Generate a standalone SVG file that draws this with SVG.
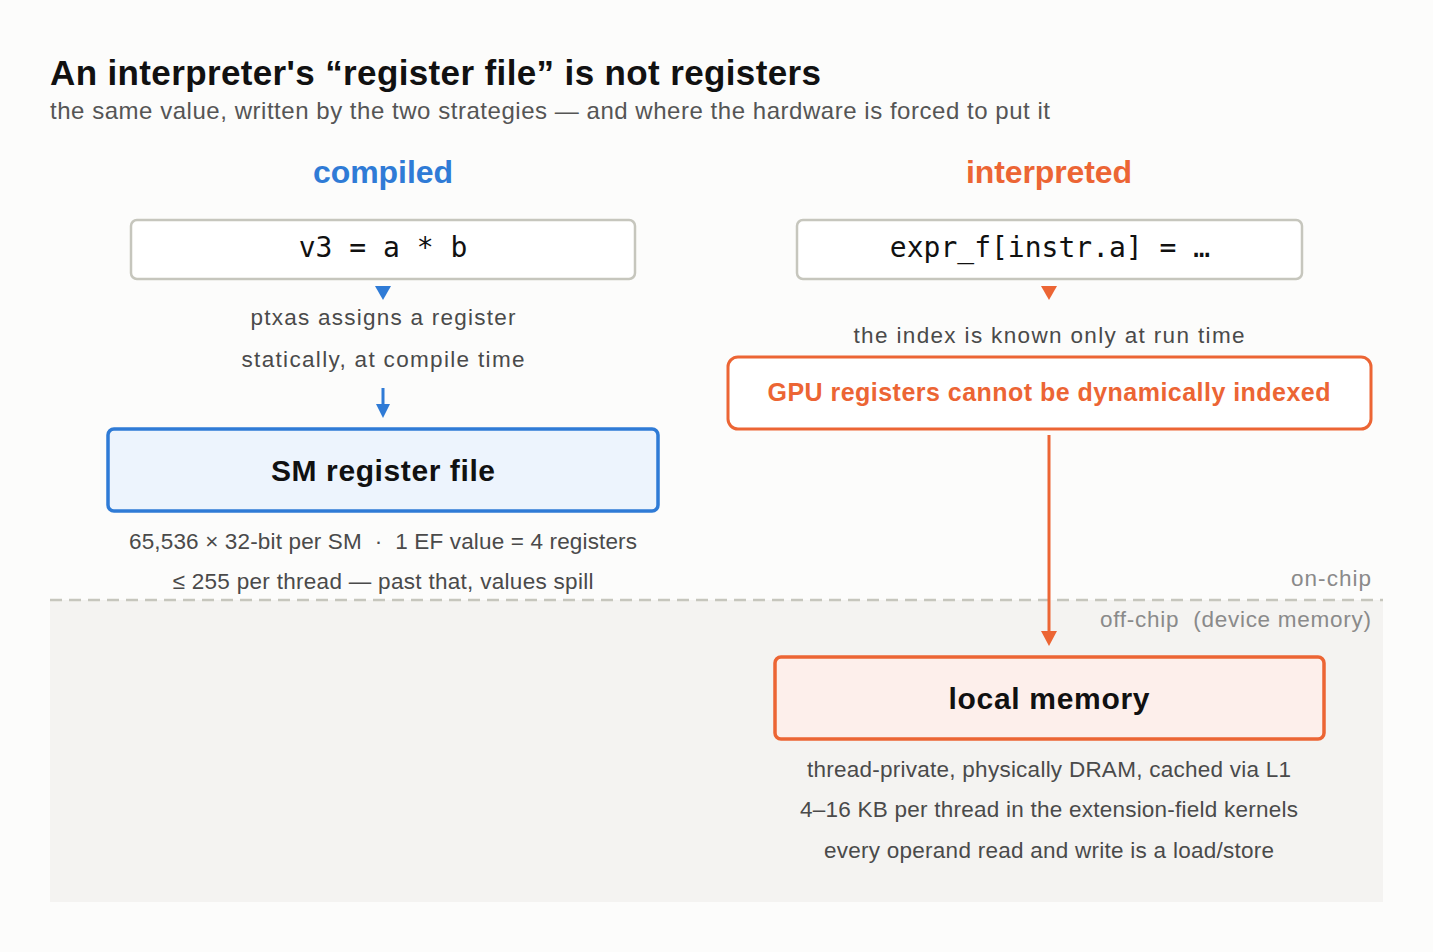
<svg xmlns="http://www.w3.org/2000/svg" width="1433" height="952" viewBox="0 0 1433 952">
<style>
.s{font-family:"Liberation Sans",Arial,sans-serif}
.g{fill:#4a4a4a;font-size:22.5px}
.m{font-family:"DejaVu Sans Mono",monospace;font-size:28px;fill:#111}
.code{fill:#fff;stroke:#c6c6bd;stroke-width:2.5}
.zone{fill:#8a8a8a;font-size:22.5px}
</style>
<rect width="1433" height="952" fill="#fcfcfb"/>
<rect x="50" y="600" width="1333" height="302" fill="#f4f3f1"/>
<line x1="50" y1="600" x2="1383" y2="600" stroke="#c6c6bd" stroke-width="2.5" stroke-dasharray="12,7"/>
<text class="s zone" x="1371" y="586" text-anchor="end" textLength="80">on-chip</text>
<text class="s zone" x="1371" y="627" text-anchor="end" xml:space="preserve" textLength="271">off-chip  (device memory)</text>
<text class="s" x="50" y="85" font-size="35" font-weight="bold" fill="#111" textLength="771">An interpreter's “register file” is not registers</text>
<text class="s" x="50" y="119" font-size="24" fill="#555" textLength="1000">the same value, written by the two strategies — and where the hardware is forced to put it</text>
<text class="s" x="383" y="183" font-size="32" font-weight="bold" fill="#2f7bd6" text-anchor="middle" textLength="140">compiled</text>
<text class="s" x="1049" y="183" font-size="32" font-weight="bold" fill="#ec6534" text-anchor="middle" textLength="166">interpreted</text>
<g id="code-compiled"><rect class="code" x="131" y="220" width="504" height="59" rx="6"/><text class="m" x="383" y="257" text-anchor="middle">v3 = a * b</text></g>
<g id="code-interp"><rect class="code" x="797" y="220" width="505" height="59" rx="6"/><text class="m" x="1050" y="257" text-anchor="middle">expr_f[instr.a] = …</text></g>
<g id="connectors">
<path d="M375,286L391,286L383,300Z" fill="#2f7bd6"/>
<path d="M1041,286L1057,286L1049,300Z" fill="#ec6534"/>
<line x1="383" y1="388" x2="383" y2="408" stroke="#2f7bd6" stroke-width="3"/>
<path d="M376,404L390,404L383,418Z" fill="#2f7bd6"/>
<line x1="1049" y1="435" x2="1049" y2="635" stroke="#ec6534" stroke-width="3"/>
<path d="M1041,631L1057,631L1049,646Z" fill="#ec6534"/>
</g>
<text class="s g" x="383" y="325" text-anchor="middle" textLength="265">ptxas assigns a register</text>
<text class="s g" x="383" y="367" text-anchor="middle" textLength="283">statically, at compile time</text>
<text class="s g" x="1049" y="343" text-anchor="middle" textLength="391">the index is known only at run time</text>
<g id="gpu-reg"><rect x="728" y="357" width="643" height="72" rx="10" fill="#fff" stroke="#ec6534" stroke-width="3"/><text class="s" x="1049" y="401" font-size="25" font-weight="bold" fill="#ec6534" text-anchor="middle" textLength="563">GPU registers cannot be dynamically indexed</text></g>
<g id="sm-reg"><rect x="108" y="429" width="550" height="82" rx="6" fill="#edf4fd" stroke="#2f7bd6" stroke-width="3.5"/><text class="s" x="383" y="481" font-size="30" font-weight="bold" fill="#111" text-anchor="middle" textLength="224">SM register file</text></g>
<text class="s g" x="383" y="549" text-anchor="middle" xml:space="preserve" textLength="508">65,536 × 32-bit per SM  ·  1 EF value = 4 registers</text>
<text class="s g" x="383" y="589" text-anchor="middle" textLength="421">≤ 255 per thread — past that, values spill</text>
<g id="local-mem"><rect x="775" y="657" width="549" height="82" rx="6" fill="#fdefeb" stroke="#ec6534" stroke-width="3.5"/><text class="s" x="1049" y="709" font-size="30" font-weight="bold" fill="#111" text-anchor="middle" textLength="201">local memory</text></g>
<text class="s g" x="1049" y="777" text-anchor="middle" textLength="484">thread-private, physically DRAM, cached via L1</text>
<text class="s g" x="1049" y="817" text-anchor="middle" textLength="498">4–16 KB per thread in the extension-field kernels</text>
<text class="s g" x="1049" y="858" text-anchor="middle" textLength="450">every operand read and write is a load/store</text>
</svg>
